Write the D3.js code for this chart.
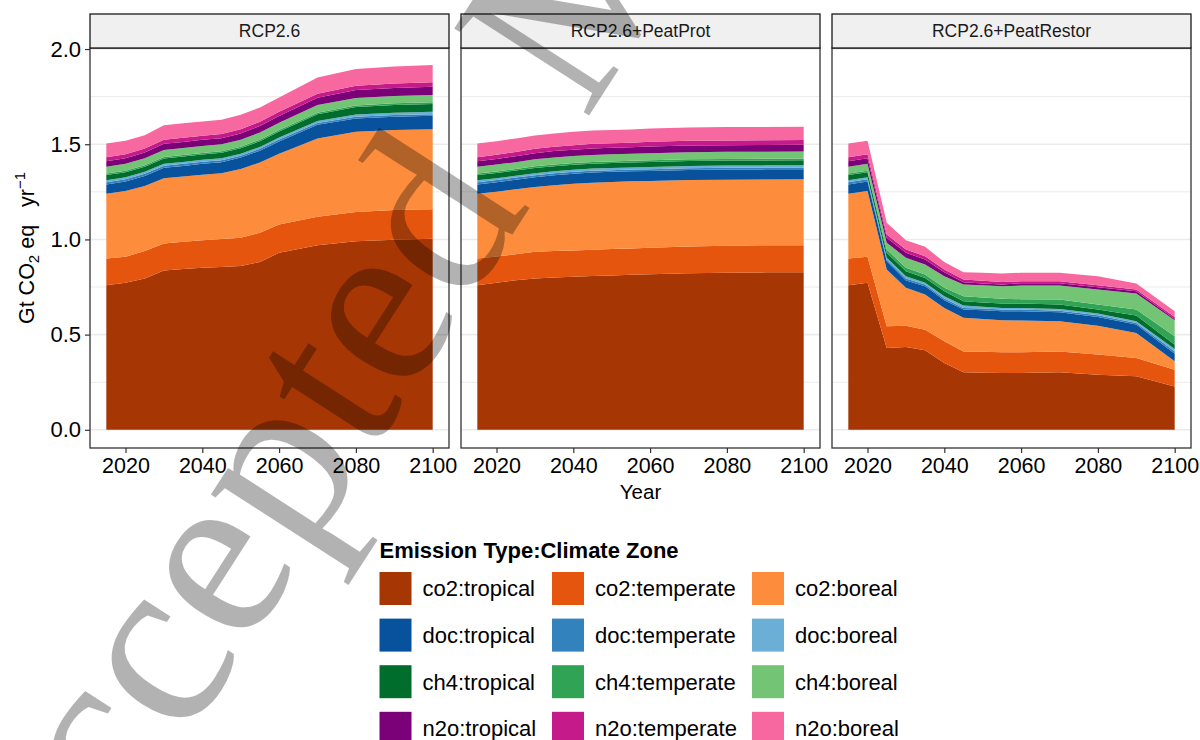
<!DOCTYPE html>
<html><head><meta charset="utf-8">
<script src="https://cdn.jsdelivr.net/npm/d3@7"></script>
<style>body{margin:0;background:#fff} svg{display:block;font-family:"Liberation Sans",Arial,Helvetica,sans-serif}</style>
</head><body><svg id="c" width="1200" height="740"></svg>
<script>
// ---------------- data ----------------
const years = [2015,2020,2025,2030,2035,2040,2045,2050,2055,2060,2070,2080,2090,2100];
const scenarios = ["RCP2.6","RCP2.6+PeatProt","RCP2.6+PeatRestor"];
const seriesKeys = ["co2:tropical","co2:temperate","co2:boreal",
                    "doc:tropical","doc:temperate","doc:boreal",
                    "ch4:tropical","ch4:temperate","ch4:boreal",
                    "n2o:tropical","n2o:temperate","n2o:boreal"];
const seriesColors = ["#a63603","#e6550d","#fd8d3c",
                      "#08519c","#3182bd","#6baed6",
                      "#006d2c","#31a354","#74c476",
                      "#7a0177","#c51b8a","#f768a1"];
const yTicks = [0,0.5,1.0,1.5,2.0];
const yMinorTicks = [0.25,0.75,1.25,1.75];
const xTicks = [2020,2040,2060,2080,2100];

// Gt CO2 eq / yr ; rows follow seriesKeys, columns follow years
const valuesRCP26 = [
  [0.760,0.772,0.795,0.837,0.845,0.851,0.855,0.860,0.882,0.930,0.970,0.991,0.998,1.003],
  [0.140,0.137,0.144,0.142,0.143,0.145,0.147,0.149,0.153,0.149,0.149,0.153,0.156,0.155],
  [0.340,0.345,0.342,0.342,0.342,0.344,0.345,0.361,0.369,0.371,0.411,0.421,0.421,0.421],
  [0.049,0.050,0.052,0.055,0.056,0.057,0.058,0.060,0.062,0.065,0.072,0.070,0.070,0.070],
  [0.012,0.012,0.012,0.011,0.011,0.011,0.011,0.010,0.010,0.010,0.009,0.009,0.009,0.009],
  [0.010,0.010,0.010,0.010,0.010,0.010,0.010,0.010,0.010,0.011,0.011,0.012,0.012,0.012],
  [0.027,0.027,0.027,0.028,0.028,0.028,0.029,0.029,0.030,0.031,0.035,0.039,0.040,0.041],
  [0.008,0.008,0.008,0.008,0.008,0.008,0.008,0.008,0.008,0.008,0.009,0.009,0.009,0.009],
  [0.036,0.036,0.036,0.037,0.037,0.037,0.037,0.037,0.038,0.038,0.040,0.039,0.038,0.038],
  [0.029,0.029,0.030,0.032,0.032,0.032,0.032,0.033,0.034,0.035,0.038,0.042,0.043,0.044],
  [0.021,0.021,0.021,0.022,0.022,0.022,0.022,0.022,0.022,0.022,0.021,0.022,0.023,0.023],
  [0.072,0.071,0.070,0.076,0.076,0.075,0.074,0.076,0.075,0.075,0.086,0.088,0.089,0.091]
];
const valuesPeatProt = [
  [0.760,0.772,0.785,0.795,0.800,0.804,0.808,0.811,0.814,0.817,0.822,0.825,0.827,0.828],
  [0.140,0.138,0.137,0.140,0.139,0.138,0.138,0.139,0.139,0.139,0.141,0.142,0.142,0.142],
  [0.340,0.341,0.341,0.340,0.346,0.351,0.352,0.352,0.352,0.351,0.349,0.347,0.346,0.346],
  [0.049,0.050,0.051,0.052,0.052,0.052,0.053,0.053,0.053,0.053,0.053,0.053,0.053,0.053],
  [0.012,0.011,0.011,0.010,0.010,0.010,0.010,0.009,0.009,0.009,0.009,0.009,0.009,0.009],
  [0.010,0.010,0.010,0.011,0.011,0.011,0.011,0.011,0.011,0.012,0.012,0.012,0.012,0.012],
  [0.027,0.027,0.027,0.027,0.027,0.026,0.026,0.026,0.026,0.026,0.026,0.026,0.026,0.026],
  [0.008,0.008,0.008,0.009,0.009,0.009,0.009,0.009,0.009,0.009,0.009,0.009,0.009,0.009],
  [0.036,0.036,0.036,0.037,0.037,0.037,0.037,0.037,0.037,0.037,0.037,0.037,0.037,0.037],
  [0.029,0.030,0.031,0.032,0.033,0.033,0.034,0.034,0.034,0.035,0.035,0.035,0.035,0.035],
  [0.021,0.022,0.022,0.023,0.023,0.024,0.024,0.024,0.024,0.025,0.025,0.025,0.025,0.025],
  [0.072,0.071,0.071,0.070,0.070,0.070,0.070,0.070,0.070,0.070,0.070,0.070,0.070,0.070]
];
const valuesPeatRestor = [
  [0.760,0.772,0.430,0.435,0.418,0.351,0.302,0.300,0.298,0.298,0.302,0.289,0.281,0.228],
  [0.140,0.137,0.114,0.112,0.108,0.114,0.110,0.110,0.109,0.109,0.109,0.106,0.096,0.088],
  [0.340,0.345,0.298,0.199,0.185,0.175,0.176,0.172,0.168,0.167,0.159,0.152,0.132,0.044],
  [0.049,0.050,0.044,0.038,0.043,0.041,0.044,0.046,0.048,0.049,0.048,0.046,0.044,0.040],
  [0.012,0.012,0.009,0.011,0.009,0.009,0.008,0.009,0.009,0.009,0.008,0.009,0.008,0.012],
  [0.010,0.010,0.009,0.012,0.009,0.012,0.013,0.010,0.008,0.008,0.009,0.009,0.009,0.013],
  [0.027,0.027,0.026,0.026,0.026,0.026,0.022,0.022,0.023,0.023,0.023,0.021,0.030,0.022],
  [0.008,0.008,0.017,0.018,0.018,0.018,0.027,0.026,0.025,0.023,0.026,0.026,0.032,0.044],
  [0.036,0.036,0.035,0.053,0.052,0.061,0.061,0.064,0.066,0.072,0.074,0.079,0.084,0.084],
  [0.029,0.029,0.027,0.026,0.027,0.021,0.012,0.010,0.009,0.012,0.012,0.012,0.012,0.007],
  [0.021,0.021,0.017,0.017,0.017,0.014,0.014,0.014,0.014,0.010,0.010,0.010,0.009,0.011],
  [0.072,0.071,0.062,0.049,0.049,0.039,0.039,0.042,0.044,0.045,0.045,0.048,0.031,0.030]
];
const scenarioValues = [valuesRCP26, valuesPeatProt, valuesPeatRestor];

// ---------------- layout ----------------
const svg = d3.select("#c");
const panelX = [[90,449],[461,820],[832,1191]];
const stripTop = 14, plotTop = 48, plotBottom = 448;
const y = d3.scaleLinear().domain([-0.0955, 2.0055]).range([plotBottom, plotTop]);
const color = d3.scaleOrdinal().domain(seriesKeys).range(seriesColors);
const stack = d3.stack().keys(seriesKeys);
const TXT = "#000";

scenarios.forEach((scn, si) => {
  const [x0, x1] = panelX[si];
  const x = d3.scaleLinear().domain([2010.75, 2104.25]).range([x0, x1]);
  const rows = years.map((yr, j) => {
    const r = {year: yr};
    seriesKeys.forEach((k, i) => r[k] = scenarioValues[si][i][j]);
    return r;
  });
  const g = svg.append("g");
  g.append("rect").attr("x", x0).attr("y", plotTop).attr("width", x1 - x0).attr("height", plotBottom - plotTop).attr("fill", "#fff");
  g.selectAll(".minor").data(yMinorTicks).join("line")
    .attr("x1", x0).attr("x2", x1).attr("y1", d => y(d)).attr("y2", d => y(d))
    .attr("stroke", "#ebebeb").attr("stroke-width", 1);
  g.selectAll(".major").data(yTicks).join("line")
    .attr("x1", x0).attr("x2", x1).attr("y1", d => y(d)).attr("y2", d => y(d))
    .attr("stroke", "#ebebeb").attr("stroke-width", 1.6);
  const area = d3.area().x(d => x(d.data.year)).y0(d => y(d[0])).y1(d => y(d[1]));
  g.selectAll(".layer").data(stack(rows)).join("path")
    .attr("d", area).attr("fill", d => color(d.key));
  g.append("rect").attr("x", x0).attr("y", plotTop).attr("width", x1 - x0).attr("height", plotBottom - plotTop)
    .attr("fill", "none").attr("stroke", "#333").attr("stroke-width", 1.3);
  g.append("rect").attr("x", x0).attr("y", stripTop).attr("width", x1 - x0).attr("height", plotTop - stripTop)
    .attr("fill", "#f0f0f0").attr("stroke", "#1a1a1a").attr("stroke-width", 1.3);
  g.append("text").attr("x", (x0 + x1) / 2).attr("y", (stripTop + plotTop) / 2).attr("dy", "0.35em")
    .attr("text-anchor", "middle").attr("font-size", 17.5).attr("fill", "#1a1a1a").text(scn);
  const xa = g.append("g").attr("transform", `translate(0,${plotBottom})`)
    .call(d3.axisBottom(x).tickValues(xTicks).tickFormat(d3.format("d")).tickSize(5).tickPadding(5).tickSizeOuter(0));
  xa.select(".domain").remove();
  xa.selectAll("line").attr("stroke", "#333").attr("stroke-width", 1.2);
  xa.selectAll("text").attr("font-size", 21.5).attr("fill", TXT).attr("font-family", "Liberation Sans, Arial, sans-serif");
  if (si === 0) {
    const ya = g.append("g").attr("transform", `translate(${x0},0)`)
      .call(d3.axisLeft(y).tickValues(yTicks).tickFormat(d3.format(".1f")).tickSize(5).tickPadding(4).tickSizeOuter(0));
    ya.select(".domain").remove();
    ya.selectAll("line").attr("stroke", "#333").attr("stroke-width", 1.2);
    ya.selectAll("text").attr("font-size", 22).attr("fill", TXT).attr("font-family", "Liberation Sans, Arial, sans-serif");
  }
});

// axis titles
svg.append("text").attr("x", 640.5).attr("y", 499).attr("text-anchor", "middle")
  .attr("font-size", 20.5).attr("fill", TXT).text("Year");
const yt = svg.append("text").attr("transform", `translate(34,${(plotTop + plotBottom) / 2}) rotate(-90)`)
  .attr("text-anchor", "middle").attr("font-size", 21.5).attr("fill", TXT);
yt.append("tspan").text("Gt CO");
yt.append("tspan").attr("font-size", 15).attr("dy", 5).text("2");
yt.append("tspan").attr("dy", -5).text("\u00a0eq\u00a0\u00a0\u00a0yr");
yt.append("tspan").attr("font-size", 15).attr("dy", -9).text("\u22121");

// legend
const lg = svg.append("g");
lg.append("text").attr("x", 379.5).attr("y", 558).attr("font-size", 22).attr("font-weight", "bold")
  .attr("fill", TXT).text("Emission Type:Climate Zone");
const colX = [379.5, 552, 752];
const labelOffset = 43;
const rowY0 = 572, rowStep = 46.6;
seriesKeys.forEach((k, i) => {
  const c = i % 3, r = Math.floor(i / 3);
  const gx = colX[c], gy = rowY0 + r * rowStep;
  lg.append("rect").attr("x", gx).attr("y", gy).attr("width", 32).attr("height", 33).attr("fill", color(k));
  lg.append("text").attr("x", gx + labelOffset).attr("y", gy + 16.5).attr("dy", "0.36em")
    .attr("font-size", 22).attr("fill", TXT).text(k);
});

// watermark
const wm = svg.append("text").attr("transform", "translate(30,983) rotate(-57.2)")
  .attr("font-family", "Liberation Serif, Times New Roman, serif").attr("font-size", 245)
  .attr("fill", "#000").attr("fill-opacity", 0.3);
wm.append("tspan").text("Accepted");
wm.append("tspan").attr("dx", 100).text("Manuscript");
</script></body></html>
